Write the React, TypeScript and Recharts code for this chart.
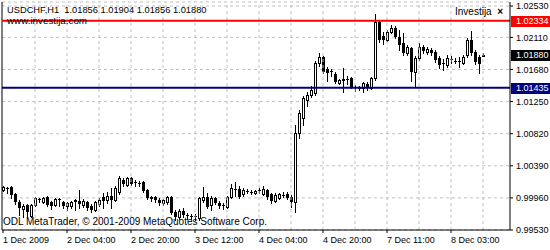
import { ComposedChart, Bar, XAxis, YAxis, CartesianGrid, ReferenceLine } from "recharts";

// USDCHF H1, 1 Dec 2009 12:00 .. 8 Dec 2009 11:00
const opens = [
  1.00066, 1.00093, 1.00106, 1.00012, 0.99905, 0.99811, 0.99865, 0.99718, 0.99865, 0.99945,
  0.99905, 0.99972, 0.99905, 0.99865, 0.99945, 0.99905, 0.99851, 0.99851, 0.99918, 0.99918,
  0.99865, 0.99905, 0.99851, 0.99798, 0.99878, 0.99972, 0.99932, 0.99985, 0.99932, 1.00039,
  1.002, 1.00133, 1.00226, 1.00173, 1.0016, 1.00173, 1.00066, 0.99972, 0.99972, 0.99932,
  0.99892, 0.99905, 0.99972, 0.99771, 0.99704, 0.99785, 0.99731, 0.99718, 0.99718, 0.99691,
  0.99932, 0.99972, 0.99865, 0.99959, 0.99892, 0.99865, 0.99838, 0.99972, 1.00079, 1.00079,
  1.00012, 1.00052, 1.00039, 1.00026, 1.00066, 1.00012, 1.00066, 1.00012, 0.99918, 0.99959,
  0.99999, 1.00012, 0.99972, 0.99905, 1.00829, 1.0103, 1.01271, 1.01338, 1.01365, 1.01767,
  1.01847, 1.01686, 1.0166, 1.01619, 1.01499, 1.01539, 1.01552, 1.01566, 1.01445, 1.01432,
  1.01432, 1.01485, 1.01432, 1.01566, 1.02316, 1.02128, 1.02075, 1.02182, 1.02235, 1.02115,
  1.02035, 1.01901, 1.01968, 1.01646, 1.01834, 1.01981, 1.01914, 1.01941, 1.01914, 1.01834,
  1.01767, 1.0174, 1.0182, 1.01793, 1.01793, 1.01767, 1.01874, 1.02075, 1.01914, 1.01847,
  1.01856,
];
const highs = [
  1.00119, 1.00106, 1.00119, 1.00026, 0.99932, 0.99878, 0.99878, 0.99878, 0.99972, 0.99959,
  0.99972, 0.99985, 0.99918, 0.99959, 0.99959, 0.99918, 0.99905, 0.99918, 0.99945, 1.00066,
  0.99945, 0.99918, 0.99878, 0.99918, 0.99959, 1.00026, 1.00039, 1.00093, 1.00119, 1.00253,
  1.00226, 1.0024, 1.0024, 1.002, 1.00186, 1.00186, 1.00079, 0.99985, 0.99985, 0.99959,
  0.99945, 0.99985, 0.99985, 0.99798, 0.99811, 0.99825, 0.99758, 0.99744, 0.99744, 0.99972,
  1.00106, 1.00026, 0.99985, 0.99972, 0.99918, 0.99892, 0.99985, 1.00146, 1.00173, 1.00119,
  1.00093, 1.00079, 1.00066, 1.00066, 1.00093, 1.00119, 1.00079, 1.00026, 1.00026, 1.00026,
  1.00039, 1.00039, 0.99999, 1.00936, 1.01137, 1.01325, 1.01378, 1.01459, 1.01793, 1.01901,
  1.0186, 1.01713, 1.01686, 1.01646, 1.01552, 1.017, 1.01593, 1.01579, 1.01472, 1.01459,
  1.01512, 1.01512, 1.01579, 1.02423, 1.02343, 1.02182, 1.02209, 1.02276, 1.02262, 1.02209,
  1.02168, 1.02008, 1.01981, 1.0186, 1.02035, 1.02008, 1.01981, 1.01968, 1.01941, 1.0186,
  1.0182, 1.01874, 1.0186, 1.01834, 1.01847, 1.01874, 1.02102, 1.02195, 1.01941, 1.01874,
  1.01904,
];
const lows = [
  1.00052, 1.00026, 0.99959, 0.99878, 0.99731, 0.99704, 0.99691, 0.99704, 0.99851, 0.99905,
  0.99892, 0.99851, 0.99811, 0.99851, 0.99851, 0.99825, 0.99798, 0.99825, 0.99798, 0.99825,
  0.99838, 0.99798, 0.99771, 0.99785, 0.99851, 0.99825, 0.99892, 0.99825, 0.99918, 1.00012,
  1.00119, 1.00119, 1.00133, 1.00119, 1.00119, 1.00039, 0.99945, 0.99918, 0.99905, 0.99865,
  0.99865, 0.99878, 0.99744, 0.99664, 0.99677, 0.99704, 0.99677, 0.99677, 0.99664, 0.99664,
  0.99905, 0.99825, 0.99798, 0.99878, 0.99825, 0.99811, 0.99825, 0.99959, 0.99985, 0.99959,
  0.99985, 1.00026, 1.00012, 1.00012, 1.00026, 0.99999, 0.99945, 0.99892, 0.99905, 0.99945,
  0.99972, 0.99945, 0.99838, 0.99771, 1.00762, 1.00936, 1.01191, 1.01311, 1.01338, 1.01726,
  1.01633, 1.01526, 1.01593, 1.01499, 1.01485, 1.01378, 1.01485, 1.01432, 1.01392, 1.01405,
  1.01378, 1.01405, 1.01418, 1.01539, 1.02048, 1.02021, 1.02061, 1.02168, 1.02102, 1.01941,
  1.01874, 1.01874, 1.01526, 1.01445, 1.01807, 1.01901, 1.01887, 1.01874, 1.0178, 1.017,
  1.01673, 1.01713, 1.01767, 1.01767, 1.01713, 1.01753, 1.01847, 1.01874, 1.01753, 1.01633,
  1.01856,
];
const closes = [
  1.00106, 1.00086, 0.99999, 0.99905, 0.99825, 0.99851, 0.99771, 0.99865, 0.99959, 0.99939,
  0.99959, 0.99865, 0.99851, 0.99945, 0.99939, 0.99851, 0.99892, 0.99905, 0.99932, 0.99878,
  0.99918, 0.99825, 0.99798, 0.99905, 0.99932, 0.99918, 0.99985, 0.99932, 1.00093, 1.00226,
  1.00146, 1.00226, 1.00146, 1.0016, 1.00153, 1.00052, 0.99959, 0.99945, 0.99932, 0.99892,
  0.99932, 0.99972, 0.99758, 0.99704, 0.99785, 0.99731, 0.99718, 0.99711, 0.99704, 0.99959,
  0.99972, 0.99838, 0.99959, 0.99892, 0.99851, 0.99858, 0.99972, 1.00093, 1.00066, 0.99972,
  1.00066, 1.00046, 1.00032, 1.00052, 1.00059, 1.00079, 0.99972, 0.99918, 0.99999, 1.00012,
  0.99992, 0.99959, 0.99905, 1.00829, 1.01097, 1.01298, 1.01338, 1.01405, 1.01767, 1.01847,
  1.01646, 1.01633, 1.01646, 1.01512, 1.01539, 1.01552, 1.01539, 1.01445, 1.01432, 1.01425,
  1.01499, 1.01445, 1.01566, 1.02316, 1.02075, 1.02075, 1.02182, 1.02235, 1.02115, 1.02008,
  1.01901, 1.01981, 1.01646, 1.01834, 1.01981, 1.01927, 1.01954, 1.01901, 1.01807, 1.0174,
  1.01753, 1.01834, 1.01807, 1.01787, 1.0178, 1.01847, 1.02075, 1.01901, 1.0178, 1.01753,
  1.0188,
];

const tickIdx = [0, 16, 32, 48, 64, 80, 96, 112];
const tickLabels = [
  "1 Dec 2009", "2 Dec 04:00", "2 Dec 20:00", "3 Dec 12:00",
  "4 Dec 04:00", "4 Dec 20:00", "7 Dec 11:00", "8 Dec 03:00",
];
const gridIdx = [8, 16, 24, 32, 40, 48, 56, 64, 72, 80, 88, 96, 104, 112, 120];
const priceTicks = [0.9953, 0.9996, 1.0039, 1.0082, 1.0125, 1.0168, 1.0211, 1.0253];

const resistance = 1.02334;
const support = 1.01435;
const bid = 1.0188;

const data = opens.map((o, i) => ({
  idx: i,
  open: o,
  high: highs[i],
  low: lows[i],
  close: closes[i],
  range: [lows[i], highs[i]],
}));

const FONT = "'Liberation Sans', Arial, sans-serif";

function Candle(props: any) {
  const { x, y, width, height, payload } = props;
  if (x == null || !payload) return null;
  const { open, close, high, low } = payload;
  const span = high - low;
  const at = (v: number) => (span > 0 ? y + ((high - v) / span) * height : y);
  const cx = Math.round(x + width / 2);
  const top = Math.round(at(Math.max(open, close)));
  const bot = Math.round(at(Math.min(open, close)));
  const bull = close >= open;
  return (
    <g>
      <line x1={cx + 0.5} x2={cx + 0.5} y1={Math.round(y)} y2={Math.round(y + height) + 1} stroke="#000" />
      {bull ? (
        <rect x={cx - 0.5} y={top + 0.5} width={2} height={Math.max(bot - top, 0)} fill="#fff" stroke="#000" />
      ) : (
        <rect x={cx - 1} y={top} width={3} height={Math.max(bot - top, 1)} fill="#000" />
      )}
    </g>
  );
}

function XTick({ x, y, payload }: any) {
  const label = tickLabels[tickIdx.indexOf(payload.value)];
  return (
    <text x={x} y={y + 8} fontSize={9} fontFamily={FONT} fill="#000" textAnchor="start">
      {label}
    </text>
  );
}

function PriceTag({ viewBox, bg, value }: any) {
  if (!viewBox) return null;
  const left = viewBox.x + viewBox.width + 1;
  const cy = Math.round(viewBox.y);
  return (
    <g>
      <rect x={left} y={cy - 5} width={40} height={11} fill={bg} />
      <text x={left + 5} y={cy} dy="0.355em" fontSize={9} fontFamily={FONT} fill="#fff">
        {value.toFixed(5)}
      </text>
    </g>
  );
}

export default function App() {
  return (
    <div style={{ position: "fixed", left: 0, top: 0, width: 550, height: 250, background: "#fff", fontFamily: FONT }}>
      <ComposedChart width={550} height={250} data={data} margin={{ top: 2, right: 0, bottom: 0, left: 2 }}>
        <CartesianGrid vertical={false} stroke="#c0c0c0" strokeDasharray="3 3" />
        {gridIdx.map((g) => (
          <ReferenceLine key={g} x={g} stroke="#c0c0c0" strokeDasharray="3 3" />
        ))}
        <XAxis
          dataKey="idx"
          type="number"
          domain={[-0.25, 126.75]}
          allowDataOverflow
          ticks={tickIdx}
          interval={0}
          tick={<XTick />}
          tickSize={3}
          tickLine={{ stroke: "#000" }}
          axisLine={{ stroke: "#000" }}
          height={20}
        />
        <YAxis
          orientation="right"
          width={40}
          domain={[0.9953, 1.02584]}
          allowDataOverflow
          ticks={priceTicks}
          interval={0}
          tickFormatter={(v: number) => v.toFixed(5)}
          tick={{ fill: "#000", fontSize: 9, fontFamily: FONT }}
          tickSize={3}
          tickMargin={3}
          tickLine={{ stroke: "#000" }}
          axisLine={{ stroke: "#000" }}
        />
        <ReferenceLine x={-0.25} stroke="#000" />
        <Bar dataKey="range" barSize={3} shape={<Candle />} isAnimationActive={false} />
        <ReferenceLine y={resistance} stroke="#ff0000" strokeWidth={2} label={(p: any) => <PriceTag viewBox={p.viewBox} bg="#ff0000" value={resistance} />} />
        <ReferenceLine y={support} stroke="#000080" strokeWidth={2} label={(p: any) => <PriceTag viewBox={p.viewBox} bg="#000080" value={support} />} />
        <ReferenceLine y={bid} stroke="none" label={(p: any) => <PriceTag viewBox={p.viewBox} bg="#000" value={bid} />} />
      </ComposedChart>
      <div style={{ position: "absolute", left: 7, top: 5, fontSize: 9.3, lineHeight: "11px", whiteSpace: "nowrap", color: "#000" }}>
        USDCHF,H1&nbsp;&nbsp;1.01856 1.01904 1.01856 1.01880
      </div>
      <div style={{ position: "absolute", left: 7, top: 15, fontSize: 9.8, lineHeight: "11px", whiteSpace: "nowrap", color: "#000" }}>
        www.investija.com
      </div>
      <div style={{ position: "absolute", left: 455, top: 6, fontSize: 10, lineHeight: "11px", whiteSpace: "nowrap", color: "#000" }}>
        Investija&nbsp;&nbsp;<b>×</b>
      </div>
      <div style={{ position: "absolute", left: 3, top: 216, fontSize: 10, lineHeight: "12px", whiteSpace: "nowrap", color: "#000" }}>
        ODL MetaTrader, © 2001-2009 MetaQuotes Software Corp.
      </div>
    </div>
  );
}
